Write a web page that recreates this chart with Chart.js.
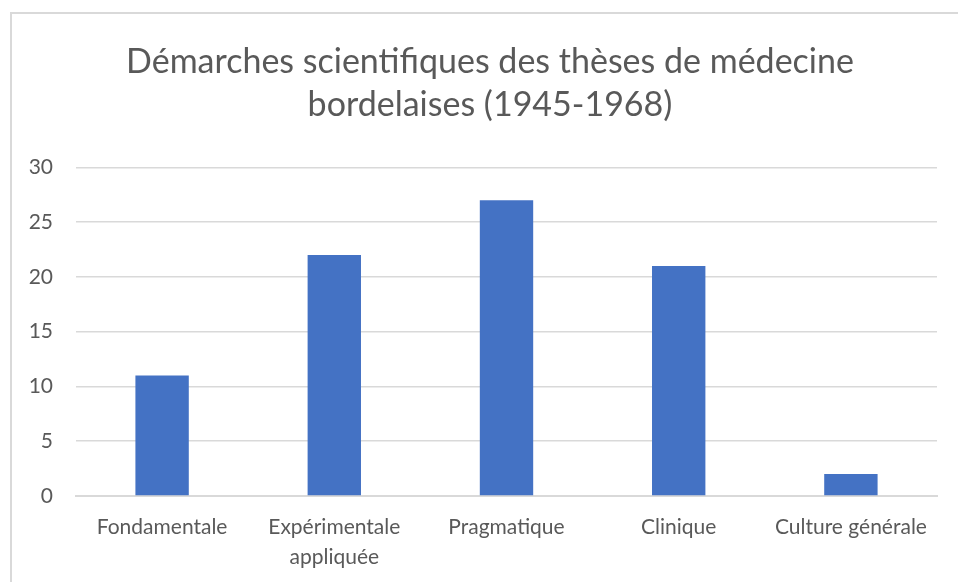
<!DOCTYPE html>
<html>
<head>
<meta charset="utf-8">
<script src="https://cdn.jsdelivr.net/npm/chart.js@4"></script>
<style>
  html, body { margin: 0; padding: 0; background: #fff; overflow: hidden; }
  #frame { position: absolute; left: 10px; top: 12px; width: 960px; height: 580px; border: 2px solid #d9d9d9; box-sizing: border-box; }
  #wrap { position: absolute; left: 0; top: 0; width: 958px; height: 582px; }
</style>
</head>
<body>
<div id="frame"></div>
<div id="wrap"><canvas id="chart"></canvas></div>
<script>
// Data
const categories = ['Fondamentale', ['Expérimentale', 'appliquée'], 'Pragmatique', 'Clinique', 'Culture générale'];
const counts = [11, 22, 27, 21, 2];
const titleLines = ['Démarches scientifiques des thèses de médecine', 'bordelaises (1945-1968)'];

const textColor = '#595959';
const gridColor = '#d9d9d9';
const fontFamily = 'Lato, "Open Sans", sans-serif';

// the title is centred on the whole frame, not on the plot area
const centreTitle = {
    id: 'centreTitle',
    afterLayout(chart) {
        if (chart.titleBlock) {
            chart.titleBlock.left = 10;
            chart.titleBlock.right = 970;
        }
    }
};

const ctx = document.getElementById('chart').getContext('2d');
const chart = new Chart(ctx, {
    type: 'bar',
    data: {
        labels: categories,
        datasets: [
            { label: 'Démarches', data: counts, backgroundColor: '#4472c4', barPercentage: 0.31, categoryPercentage: 1 }
        ]
    },
    options: {
        responsive: true,
        maintainAspectRatio: false,
        animation: false,
        layout: { padding: { left: 10, right: 21, top: 0, bottom: 0 } },
        plugins: {
            legend: { display: false },
            tooltip: { enabled: false },
            title: {
                display: true,
                text: titleLines,
                color: textColor,
                font: { family: fontFamily, size: 34, weight: 'normal', lineHeight: 1.27 },
                padding: { top: 40, bottom: 41 }
            }
        },
        scales: {
            x: {
                grid: { display: false, drawTicks: false },
                border: { display: true, color: gridColor, width: 2 },
                ticks: { color: textColor, font: { family: fontFamily, size: 21, lineHeight: 1.43 }, padding: 16, maxRotation: 0 },
                afterFit: (s) => { s.height = 86; }
            },
            y: {
                min: 0, max: 30,
                grid: { color: gridColor, lineWidth: 1.5, drawTicks: false },
                border: { display: false },
                ticks: { stepSize: 5, color: textColor, font: { family: fontFamily, size: 21 }, padding: 23 },
                afterFit: (s) => { s.width = 66; }
            }
        }
    },
    plugins: [centreTitle]
});
</script>
</body>
</html>
